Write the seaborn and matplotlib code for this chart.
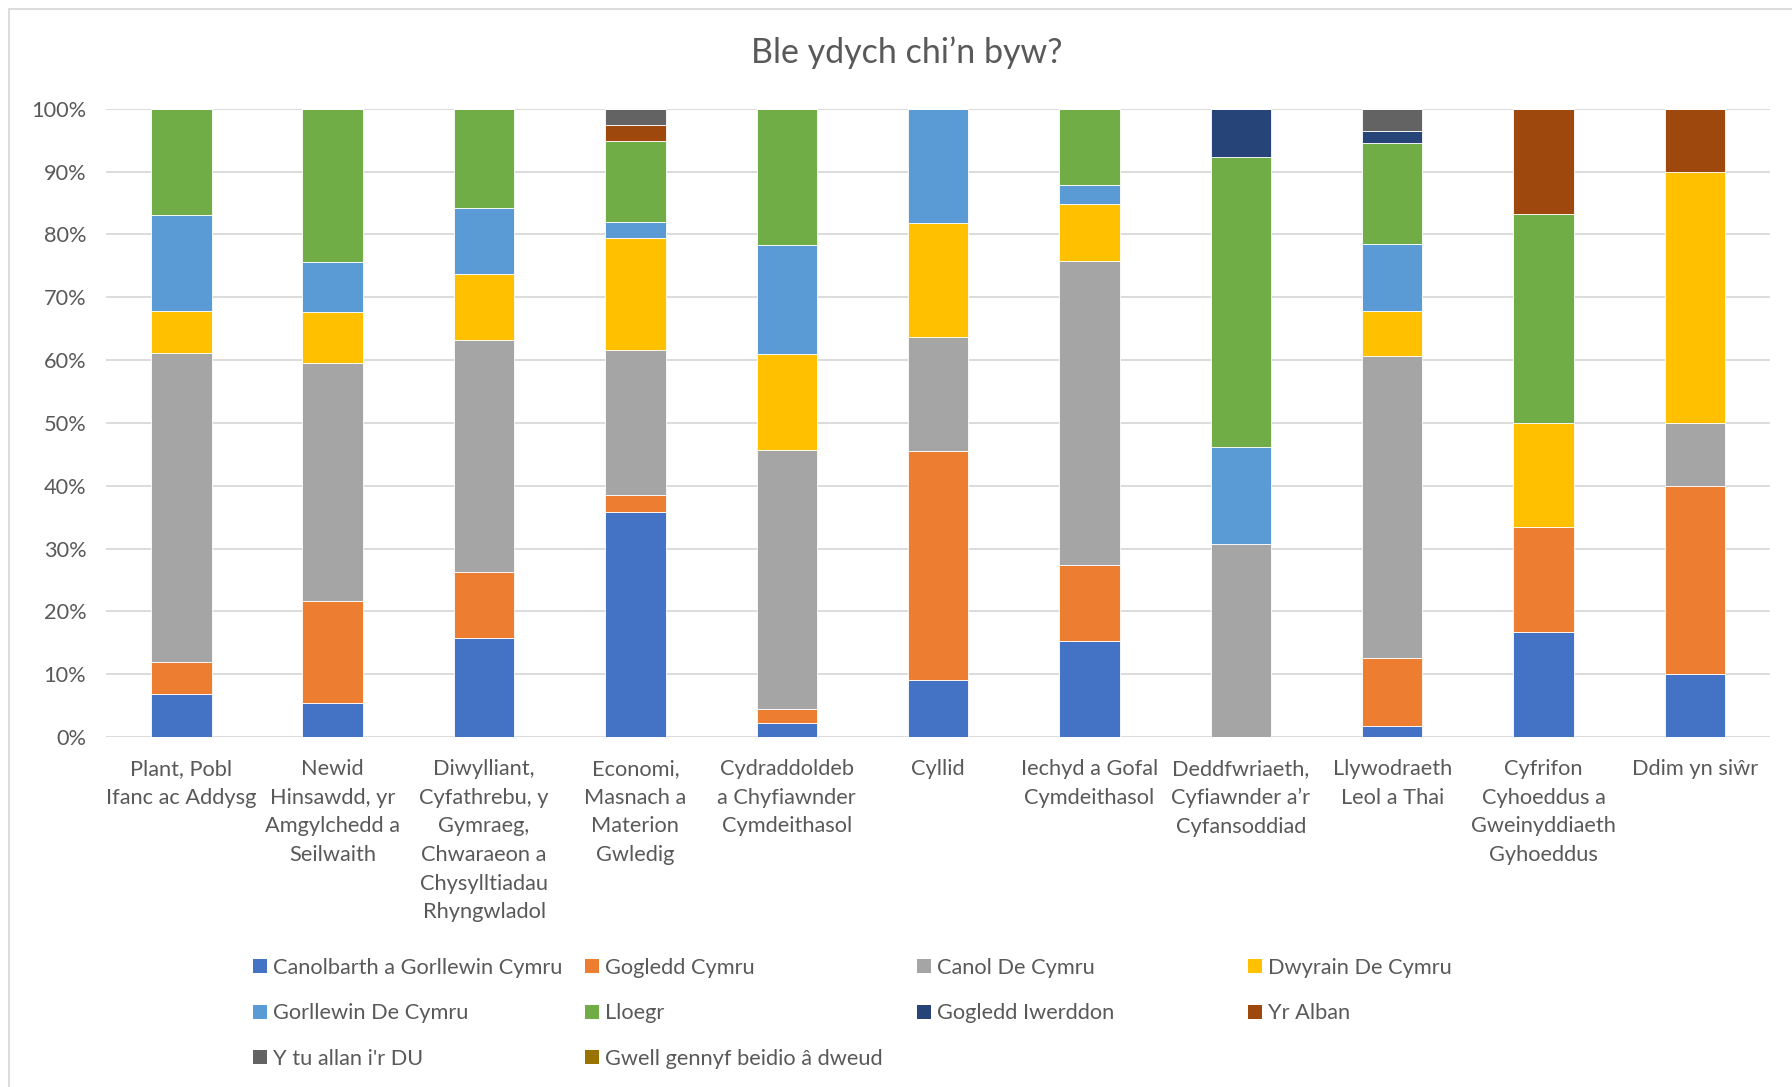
import pandas as pd
import seaborn as sns
import matplotlib.pyplot as plt
from matplotlib.patches import Patch, Rectangle

categories = [
    "Plant, Pobl Ifanc ac Addysg",
    "Newid Hinsawdd, yr Amgylchedd a Seilwaith",
    "Diwylliant, Cyfathrebu, y Gymraeg, Chwaraeon a Chysylltiadau Rhyngwladol",
    "Economi, Masnach a Materion Gwledig",
    "Cydraddoldeb a Chyfiawnder Cymdeithasol",
    "Cyllid",
    "Iechyd a Gofal Cymdeithasol",
    "Deddfwriaeth, Cyfiawnder a’r Cyfansoddiad",
    "Llywodraeth Leol a Thai",
    "Cyfrifon Cyhoeddus a Gweinyddiaeth Gyhoeddus",
    "Ddim yn siŵr",
]
tick_labels = [
    "Plant, Pobl\nIfanc ac Addysg",
    "Newid\nHinsawdd, yr\nAmgylchedd a\nSeilwaith",
    "Diwylliant,\nCyfathrebu, y\nGymraeg,\nChwaraeon a\nChysylltiadau\nRhyngwladol",
    "Economi,\nMasnach a\nMaterion\nGwledig",
    "Cydraddoldeb\na Chyfiawnder\nCymdeithasol",
    "Cyllid",
    "Iechyd a Gofal\nCymdeithasol",
    "Deddfwriaeth,\nCyfiawnder a’r\nCyfansoddiad",
    "Llywodraeth\nLeol a Thai",
    "Cyfrifon\nCyhoeddus a\nGweinyddiaeth\nGyhoeddus",
    "Ddim yn siŵr",
]
regions = [
    "Canolbarth a Gorllewin Cymru",
    "Gogledd Cymru",
    "Canol De Cymru",
    "Dwyrain De Cymru",
    "Gorllewin De Cymru",
    "Lloegr",
    "Gogledd Iwerddon",
    "Yr Alban",
    "Y tu allan i'r DU",
    "Gwell gennyf beidio â dweud",
]
colors = ["#4472C4", "#ED7D31", "#A5A5A5", "#FFC000", "#5B9BD5",
          "#70AD47", "#264478", "#9E480E", "#636363", "#997300"]

# percentages per region, one value per category
canolbarth = [6.8, 5.4, 15.8, 35.9, 2.2, 9.1, 15.2, 0, 1.8, 16.7, 10]
gogledd = [5.1, 16.2, 10.5, 2.6, 2.2, 36.4, 12.1, 0, 10.7, 16.7, 30]
canol_de = [49.2, 37.8, 36.8, 23.1, 41.3, 18.2, 48.5, 30.8, 48.2, 0, 10]
dwyrain_de = [6.8, 8.1, 10.5, 17.9, 15.2, 18.2, 9.1, 0, 7.1, 16.7, 40]
gorllewin_de = [15.3, 8.1, 10.5, 2.6, 17.4, 18.2, 3.0, 15.4, 10.7, 0, 0]
lloegr = [16.9, 24.3, 15.8, 12.8, 21.7, 0, 12.1, 46.2, 16.1, 33.3, 0]
gogledd_iwerddon = [0, 0, 0, 0, 0, 0, 0, 7.7, 1.8, 0, 0]
yr_alban = [0, 0, 0, 2.6, 0, 0, 0, 0, 0, 16.7, 10]
tu_allan = [0, 0, 0, 2.6, 0, 0, 0, 0, 3.6, 0, 0]
gwell = [0] * 11

values = [canolbarth, gogledd, canol_de, dwyrain_de, gorllewin_de, lloegr,
          gogledd_iwerddon, yr_alban, tu_allan, gwell]

rows = []
for region, vals in zip(regions, values):
    for cat, v in zip(categories, vals):
        rows.append({"category": cat, "region": region, "pct": v})
df = pd.DataFrame(rows)
df["category"] = pd.Categorical(df["category"], categories=categories, ordered=True)
# 100% stacked
df["pct"] = df["pct"] / df.groupby("category", observed=True)["pct"].transform("sum") * 100

sns.set_theme(style="white")
plt.rcParams["font.family"] = ["Lato", "DejaVu Sans"]
text_color = "#595959"
fs = 15.7

fig = plt.figure(figsize=(17.92, 10.87), dpi=100)
ax = fig.add_axes([0.059, 0.322, 0.929, 0.578])

palette = dict(zip(regions, colors))
sns.histplot(data=df, x="category", weights="pct", hue="region",
             hue_order=regions[::-1], palette=palette, multiple="stack",
             discrete=True, shrink=0.4, alpha=1, edgecolor="white",
             linewidth=0.6, legend=False, ax=ax)

ax.set_ylim(0, 100)
ax.set_xlim(-0.5, len(categories) - 0.5)
ax.set_yticks(range(0, 101, 10))
ax.set_yticklabels([f"{v}%" for v in range(0, 101, 10)])
ax.set_xticks(range(len(categories)))
ax.set_xticklabels(tick_labels, linespacing=1.54)
ax.set_xlabel("")
ax.set_ylabel("")
ax.tick_params(axis="both", length=0, labelsize=fs, labelcolor=text_color)
ax.tick_params(axis="y", pad=14)
ax.tick_params(axis="x", pad=16)
ax.yaxis.grid(True, color="#D9D9D9", linewidth=1.3)
ax.set_axisbelow(True)
for s in ax.spines.values():
    s.set_visible(False)

fig.text(0.506, 1 - 53 / 1087, "Ble ydych chi’n byw?", ha="center", va="center",
         fontsize=24.5, color=text_color)

# outer chart border
fig.patches.append(Rectangle((9 / 1792, -0.05), 1.1, 1 - 9 / 1087 + 0.05,
                             transform=fig.transFigure, fill=False,
                             edgecolor="#D9D9D9", linewidth=1.3))

# legend: four columns, filled row by row
handles = [Patch(facecolor=c, edgecolor="none") for c in colors]
col_x = [253, 585, 917, 1248]
for j, x in enumerate(col_x):
    idx = list(range(j, len(regions), 4))
    fig.legend([handles[i] for i in idx], [regions[i] for i in idx],
               loc="upper left", bbox_to_anchor=(x / 1792, 1 - 958 / 1087),
               frameon=False, fontsize=fs, labelcolor=text_color,
               handlelength=0.62, handleheight=0.62, handletextpad=0.3,
               labelspacing=1.16, borderpad=0, borderaxespad=0)

fig.savefig("out.png", dpi=100, facecolor="white")
